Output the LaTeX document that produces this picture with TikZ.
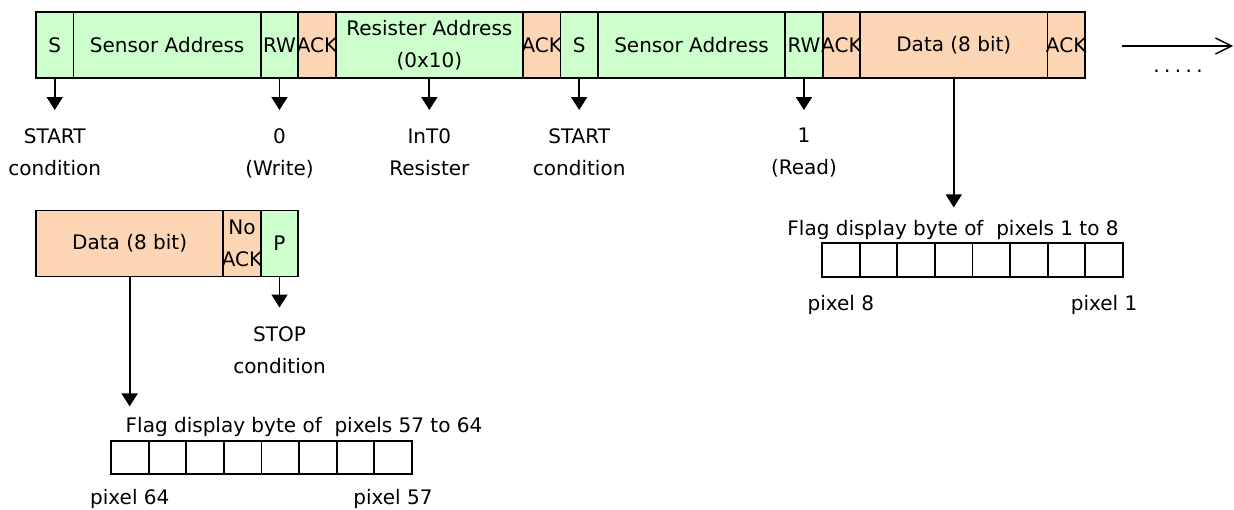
\documentclass[tikz,border=0pt]{standalone}
\usepackage{fontspec}
\setmainfont{DejaVu Sans}
\usetikzlibrary{positioning,arrows.meta}
\definecolor{ctlgreen}{RGB}{204,255,204}
\definecolor{ackorange}{RGB}{252,213,180}

\begin{document}
\begin{tikzpicture}[x=0.5pt,y=-0.5pt,
	font=\fontsize{10}{16}\selectfont,
	field/.style={draw, line width=0.9pt, minimum height=33pt, inner sep=0pt, outer sep=0pt, align=center},
	bit/.style={field, minimum width=18.73pt},
	word/.style={field, minimum width=93.65pt},
	ctl/.style={fill=ctlgreen},
	ack/.style={fill=ackorange},
	note/.style={align=center, inner sep=0pt},
	pointer/.style={line width=0.9pt, -{Triangle[width=8pt,length=6.5pt]}},
	cell/.style={draw, line width=0.9pt, minimum width=18.8pt, minimum height=16.75pt, inner sep=0pt, outer sep=0pt}]

	\useasboundingbox (0,0) rectangle (1234,509);

	% write phase
	\node[bit, ctl] (s1) at (54.73,45) {S};
	\node[word, ctl, right=0pt of s1] (sa1) {Sensor Address};
	\node[bit, ctl, right=0pt of sa1] (rw1) {RW};
	\node[bit, ack, right=0pt of rw1] (ack1) {\makebox[0pt]{ACK}};
	\node[word, ctl, right=0pt of ack1] (reg) {Resister Address\\(0x10)};
	\node[bit, ack, right=0pt of reg] (ack2) {\makebox[0pt]{ACK}};
	% read phase
	\node[bit, ctl, right=0pt of ack2] (s2) {S};
	\node[word, ctl, right=0pt of s2] (sa2) {Sensor Address};
	\node[bit, ctl, right=0pt of sa2] (rw2) {RW};
	\node[bit, ack, right=0pt of rw2] (ack3) {\makebox[0pt]{ACK}};
	\node[word, ack, right=0pt of ack3] (data1) {Data (8 bit)};
	\node[bit, ack, right=0pt of data1] (ack4) {\makebox[0pt]{ACK}};

	\coordinate (more1) at (1122,46);
	\coordinate (more2) at (1233,46);
	\draw[line width=0.7pt, -{Straight Barb[length=8pt,width=8pt]}] (more1) -- (more2);
	\node[note, anchor=base] (dots) at (1178,72) {.\kern2.2pt.\kern2.2pt.\kern2.2pt.\kern2.2pt.};

	\node[note, below=25pt of s1] (n1) {START\\condition};
	\node[note, below=25pt of rw1] (n2) {0\\(Write)};
	\node[note, below=25pt of reg] (n3) {InT0\\Resister};
	\node[note, below=25pt of s2] (n4) {START\\condition};
	\node[note, below=25pt of rw2] (n5) {1\\(Read)};
	\foreach \b/\n in {s1/n1, rw1/n2, reg/n3, s2/n4, rw2/n5}
		\draw[pointer, shorten >=9pt] (\b) -- (\n);

	% last byte
	\node[word, ack] (data2) at (129.65,243.5) {Data (8 bit)};
	\node[bit, ack, right=0pt of data2] (noack) {No\\\makebox[0pt]{ACK}};
	\node[bit, ctl, right=0pt of noack] (stop) {P};
	\node[note, below=25pt of stop] (n6) {STOP\\condition};
	\draw[pointer, shorten >=9.5pt] (stop) -- (n6);

	% flag bytes
	\node[note, anchor=base] (cap1) at (953,235) {Flag display byte of~ pixels 1 to 8};
	\node[note, anchor=base] (cap2) at (304,432) {Flag display byte of~ pixels 57 to 64};
	\foreach \i in {1,...,8} {
		\node[cell] (a\i) at ({822+37.6*(\i-0.5)},260) {};
		\node[cell] (b\i) at ({111+37.6*(\i-0.5)},457.5) {};
	}
	\draw[pointer, shorten >=6pt] (data1.south) -- (data1.south |- cap1.north);
	\draw[pointer, shorten >=5pt] (data2.south) -- (data2.south |- cap2.north);

	\node[note, below=9pt of a1] (lo1) {pixel 8};
	\node[note, below=9pt of a8] (hi1) {pixel 1};
	\node[note, below=7.5pt of b1] (lo2) {pixel 64};
	\node[note, below=7.5pt of b8] (hi2) {pixel 57};
\end{tikzpicture}
\end{document}
